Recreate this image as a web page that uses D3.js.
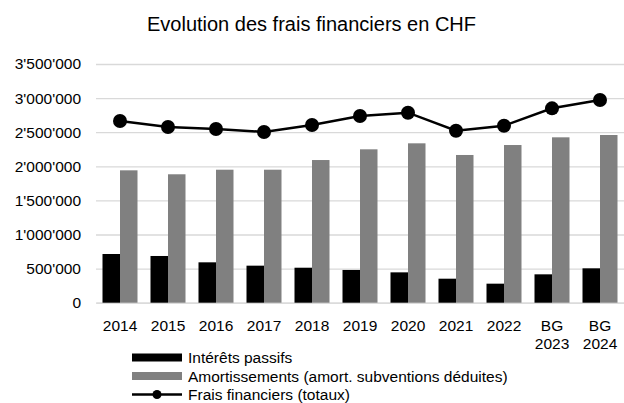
<!DOCTYPE html>
<html>
<head>
<meta charset="utf-8">
<script src="https://cdn.jsdelivr.net/npm/d3@7"></script>
<style>
  body { margin: 0; background: #fff; }
  svg { font-family: "Liberation Sans", Arial, sans-serif; display: block; }
</style>
</head>
<body>
<svg></svg>
<script>
const w = 624
const h = 403

// data
const years = ['2014', '2015', '2016', '2017', '2018', '2019', '2020', '2021', '2022', 'BG 2023', 'BG 2024']
const interets = [714000, 685000, 592000, 543000, 513000, 480000, 445000, 352000, 279000, 416000, 504000]
const amortissements = [1941000, 1883000, 1950000, 1950000, 2092000, 2249000, 2337000, 2166000, 2312000, 2425000, 2459000]
const fraisTotaux = [2664000, 2576000, 2547000, 2503000, 2605000, 2738000, 2786000, 2522000, 2595000, 2850000, 2972000]
const yTicks = [0, 500000, 1000000, 1500000, 2000000, 2500000, 3000000, 3500000]
const legendLabels = ['Intérêts passifs', 'Amortissements (amort. subventions déduites)', 'Frais financiers (totaux)']

const svg = d3.select('svg')
  .attr('width', w)
  .attr('height', h);

const margin = {top: 64, right: 0, bottom: 100, left: 96};
const innerWidth = w - margin.left - margin.right;
const innerHeight = 238.7;

const xScale = d3.scaleBand()
  .domain(years)
  .range([0, innerWidth]);

const yScale = d3.scaleLinear()
  .domain([0, 3500000])
  .range([innerHeight, 0]);

const fmt = d => d3.format(',')(d).replace(/,/g, "'");
const fontSize = '15.5px';

svg.append('text')
  .attr('x', 311.5)
  .attr('y', 31)
  .attr('text-anchor', 'middle')
  .attr('font-size', '20px')
  .attr('fill', '#000')
  .text('Evolution des frais financiers en CHF');

const g = svg.append('g')
  .attr('transform', `translate(${margin.left}, ${margin.top})`);

// gridlines + y labels
const yAxis = d3.axisLeft(yScale)
  .tickValues(yTicks)
  .tickFormat(fmt)
  .tickSize(-innerWidth)
  .tickPadding(15);

const yAxisG = g.append('g').call(yAxis);
yAxisG.select('.domain').remove();
yAxisG.selectAll('.tick line')
  .attr('stroke', '#d9d9d9')
  .attr('stroke-width', 1.3);
yAxisG.selectAll('.tick text')
  .attr('font-size', fontSize)
  .attr('fill', '#000')
  .attr('font-family', '"Liberation Sans", Arial, sans-serif');

// x labels
const xAxisG = g.append('g')
  .attr('transform', `translate(0, ${innerHeight})`)
  .call(d3.axisBottom(xScale).tickSize(0).tickPadding(0).tickFormat(''));
xAxisG.select('.domain').attr('stroke', '#d9d9d9').attr('stroke-width', 1.3);

xAxisG.selectAll('.tick').each(function(d) {
  const t = d3.select(this).append('text')
    .attr('fill', '#000')
    .attr('font-size', fontSize)
    .attr('text-anchor', 'middle')
    .attr('font-family', '"Liberation Sans", Arial, sans-serif');
  d.split(' ').forEach((part, i) => {
    t.append('tspan').attr('x', 0).attr('y', 28.5 + i * 18).text(part);
  });
});

const barW = 17.5;
const gap = (xScale.bandwidth() - 2 * barW) / 2;

g.selectAll('rect.int').data(years)
  .enter().append('rect')
  .attr('class', 'int')
  .attr('x', d => xScale(d) + gap)
  .attr('y', (d, i) => yScale(interets[i]))
  .attr('width', barW)
  .attr('height', (d, i) => innerHeight - yScale(interets[i]))
  .attr('fill', '#000');

g.selectAll('rect.amo').data(years)
  .enter().append('rect')
  .attr('class', 'amo')
  .attr('x', d => xScale(d) + gap + barW)
  .attr('y', (d, i) => yScale(amortissements[i]))
  .attr('width', barW)
  .attr('height', (d, i) => innerHeight - yScale(amortissements[i]))
  .attr('fill', '#808080');

const line = d3.line()
  .x((d, i) => xScale(years[i]) + xScale.bandwidth() / 2)
  .y(d => yScale(d));

g.append('path')
  .datum(fraisTotaux)
  .attr('d', line)
  .attr('fill', 'none')
  .attr('stroke', '#000')
  .attr('stroke-width', 2.5);

g.selectAll('circle').data(fraisTotaux)
  .enter().append('circle')
  .attr('cx', (d, i) => xScale(years[i]) + xScale.bandwidth() / 2)
  .attr('cy', d => yScale(d))
  .attr('r', 7)
  .attr('fill', '#000');

// legend
const legend = svg.append('g').attr('transform', 'translate(132, 0)');
const legendColors = ['#000', '#808080', '#000'];
const legendY = [357.5, 376, 394.5];
legendLabels.forEach((label, i) => {
  const y = legendY[i];
  if (i < 2) {
    legend.append('rect')
      .attr('x', 0).attr('y', y - 4)
      .attr('width', 50).attr('height', 8)
      .attr('fill', legendColors[i]);
  } else {
    legend.append('line')
      .attr('x1', 0).attr('x2', 50)
      .attr('y1', y).attr('y2', y)
      .attr('stroke', legendColors[i]).attr('stroke-width', 2.5);
    legend.append('circle')
      .attr('cx', 25).attr('cy', y).attr('r', 4.5)
      .attr('fill', legendColors[i]);
  }
  legend.append('text')
    .attr('x', 56).attr('y', y + 5.5)
    .attr('font-size', fontSize)
    .attr('fill', '#000')
    .text(label);
});
</script>
</body>
</html>
